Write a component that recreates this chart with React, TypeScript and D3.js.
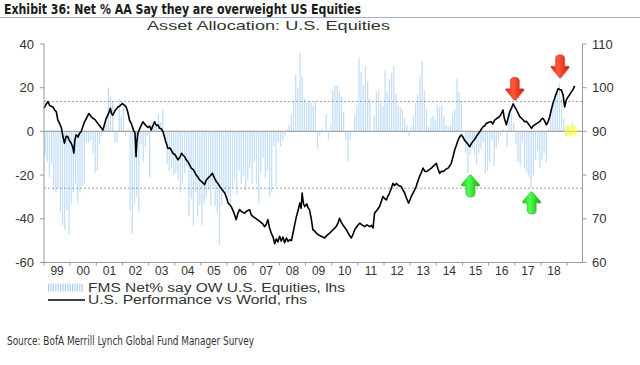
import React from "react";
import * as d3 from "d3";

// ---- DATA ----
const fmsStartYear = 1999;
// FMS Net % say overweight U.S. equities (lhs), monthly from Jan 1999
const fmsNetOW: number[] = [
  // 1999
  -11, -14, -21, -15, -27, -28, -26, -37, -43, -45, -36, -47,
  // 2000
  -33, -28, -24, -33, -28, -25, -24, -5, -5, -4, -10, -19,
  // 2001
  -18, -6, -2, 2, 3, 20, 16, 14, -5, -5, 15, 7,
  // 2002
  11, -2, 1, -36, -47, -33, -30, -37, -6, -14, -7, -2,
  // 2003
  -21, 3, 5, 4, 8, 4, 10, -5, -15, -18, -17, -20,
  // 2004
  -19, -22, -28, -24, -19, -16, -39, -31, -43, -28, -39, -34,
  // 2005
  -43, -33, -30, -27, -34, -25, -34, -37, -52, -34, -27, -30,
  // 2006
  -30, -34, -26, -22, -29, -18, -24, -20, -27, -22, -17, -24,
  // 2007
  -14, -24, -33, -19, -12, -21, -18, -30, -28, -7, -25, -5,
  // 2008
  -7, -4, -2, 1, 3, 8, 14, 26, 20, 36, 25, 15,
  // 2009
  13, 14, 13, 12, 14, -8, -2, 1, 0, 8, -4, 3,
  // 2010
  19, 21, 21, 18, 16, 9, -4, -14, -4, 0, 8, 12,
  // 2011
  34, 27, 21, 30, 23, 15, 0, 7, 18, 19, 13, 12,
  // 2012
  28, 18, 24, 27, 30, 17, 12, 11, 10, 6, 3, -2,
  // 2013
  2, 7, 13, 17, 25, 32, 19, 10, 2, 6, 7, 5,
  // 2014
  12, 11, 12, 7, 3, 2, 3, 8, 10, 24, 18, 14,
  // 2015
  0, -10, -19, -11, -8, -11, -15, -10, -8, -5, -19, -18,
  // 2016
  -14, -4, -16, -8, -5, -2, 1, 0, -7, 11, 8, 4,
  // 2017
  -6, -14, -16, -5, -17, -19, -21, -26, -20, -13, -9, -17,
  // 2018
  -13, -10, -14, 1, 10, 12, 17, 19, 22, 15, 6, -2,
  // 2019
  2, -1, 4,
];

// U.S. performance vs World (rhs): [decimal year, index]
const usVsWorld: [number, number][] = [
  [1999.0, 95.3], [1999.08, 96.2], [1999.15, 96.8], [1999.22, 95.9], [1999.34, 95.6], [1999.41, 94.9],
  [1999.47, 94.5], [1999.53, 92.6], [1999.6, 91.8], [1999.66, 90.9], [1999.72, 89.0], [1999.78, 87.3],
  [1999.85, 88.9], [1999.91, 88.8], [1999.97, 87.9], [2000.04, 87.3], [2000.1, 86.4], [2000.14, 85.0],
  [2000.18, 88.0], [2000.23, 89.2], [2000.3, 88.7], [2000.36, 89.6], [2000.42, 89.9], [2000.48, 91.0],
  [2000.55, 92.2], [2000.63, 93.1], [2000.72, 94.1], [2000.8, 93.4], [2000.87, 93.0], [2000.95, 92.7],
  [2001.06, 91.8], [2001.15, 91.1], [2001.25, 90.3], [2001.31, 91.5], [2001.38, 93.0], [2001.46, 94.0],
  [2001.54, 95.3], [2001.58, 94.1], [2001.63, 93.7], [2001.72, 94.8], [2001.83, 95.6], [2001.9, 95.8],
  [2001.99, 96.4], [2002.07, 96.0], [2002.14, 95.6], [2002.2, 94.5], [2002.27, 92.6], [2002.35, 91.6],
  [2002.42, 90.3], [2002.48, 89.6], [2002.52, 84.2], [2002.55, 87.5], [2002.59, 89.6], [2002.68, 90.9],
  [2002.78, 92.2], [2002.86, 91.6], [2002.97, 90.9], [2003.04, 91.2], [2003.1, 90.3], [2003.17, 91.4],
  [2003.23, 92.2], [2003.3, 91.3], [2003.36, 91.5], [2003.42, 90.7], [2003.49, 90.6], [2003.55, 89.9],
  [2003.64, 88.0], [2003.74, 86.1], [2003.82, 86.2], [2003.93, 85.0], [2004.02, 84.6], [2004.12, 83.5],
  [2004.2, 84.1], [2004.26, 85.0], [2004.31, 84.6], [2004.38, 84.2], [2004.44, 83.5], [2004.52, 82.9],
  [2004.63, 81.6], [2004.72, 81.2], [2004.82, 80.0], [2004.88, 79.6], [2004.95, 78.9], [2005.05, 78.4],
  [2005.14, 77.8], [2005.2, 78.8], [2005.27, 79.3], [2005.35, 79.8], [2005.44, 80.4], [2005.52, 79.3],
  [2005.59, 78.5], [2005.66, 78.0], [2005.72, 77.4], [2005.82, 76.6], [2005.91, 75.9], [2005.98, 74.8],
  [2006.04, 73.6], [2006.1, 73.2], [2006.16, 72.8], [2006.26, 71.4], [2006.35, 69.8], [2006.41, 71.2],
  [2006.48, 72.1], [2006.56, 71.6], [2006.67, 71.3], [2006.76, 71.8], [2006.86, 72.1], [2006.92, 71.0],
  [2006.99, 70.5], [2007.12, 70.0], [2007.25, 69.4], [2007.35, 68.9], [2007.44, 68.2], [2007.5, 68.8],
  [2007.56, 69.8], [2007.62, 68.0], [2007.69, 66.7], [2007.76, 65.8], [2007.82, 64.3], [2007.88, 65.4],
  [2007.94, 64.7], [2008.01, 66.0], [2008.07, 64.9], [2008.14, 65.8], [2008.2, 64.5], [2008.27, 65.6],
  [2008.33, 64.8], [2008.39, 65.2], [2008.46, 65.0], [2008.52, 66.7], [2008.58, 68.5], [2008.65, 70.5],
  [2008.72, 72.0], [2008.78, 73.6], [2008.83, 72.4], [2008.87, 75.9], [2008.92, 73.5], [2008.97, 72.8],
  [2009.05, 73.4], [2009.1, 72.5], [2009.15, 72.1], [2009.22, 70.0], [2009.28, 67.5], [2009.35, 67.2],
  [2009.41, 66.7], [2009.5, 66.3], [2009.6, 66.0], [2009.73, 65.6], [2009.82, 66.2], [2009.92, 66.7],
  [2010.05, 67.5], [2010.17, 68.2], [2010.24, 69.0], [2010.3, 70.1], [2010.37, 69.2], [2010.43, 68.6],
  [2010.5, 68.0], [2010.56, 67.5], [2010.66, 66.4], [2010.75, 65.6], [2010.82, 66.5], [2010.88, 67.5],
  [2010.97, 68.3], [2011.07, 69.0], [2011.16, 68.6], [2011.26, 68.2], [2011.35, 68.6], [2011.45, 68.2],
  [2011.52, 68.5], [2011.58, 67.9], [2011.64, 71.3], [2011.74, 72.0], [2011.83, 72.8], [2011.9, 74.0],
  [2011.96, 75.1], [2012.03, 74.6], [2012.09, 74.3], [2012.15, 75.2], [2012.21, 75.9], [2012.28, 77.0],
  [2012.34, 78.1], [2012.4, 77.6], [2012.47, 78.1], [2012.56, 77.6], [2012.66, 77.4], [2012.72, 76.6],
  [2012.79, 75.9], [2012.87, 74.6], [2012.94, 73.6], [2012.99, 74.3], [2013.04, 75.1], [2013.14, 76.2],
  [2013.23, 77.4], [2013.3, 78.7], [2013.36, 79.7], [2013.43, 80.6], [2013.49, 81.6], [2013.56, 80.9],
  [2013.62, 80.8], [2013.72, 81.2], [2013.81, 81.6], [2013.9, 82.1], [2014.0, 82.7], [2014.06, 81.5],
  [2014.13, 80.4], [2014.2, 80.9], [2014.26, 80.8], [2014.36, 81.3], [2014.45, 81.6], [2014.51, 82.1],
  [2014.57, 82.7], [2014.64, 84.2], [2014.7, 85.7], [2014.77, 86.9], [2014.83, 88.0], [2014.9, 88.8],
  [2014.96, 89.2], [2015.02, 88.7], [2015.08, 88.0], [2015.18, 87.3], [2015.28, 86.5], [2015.34, 87.2],
  [2015.4, 87.7], [2015.47, 88.2], [2015.53, 88.8], [2015.6, 89.4], [2015.66, 89.9], [2015.72, 90.5],
  [2015.79, 91.1], [2015.85, 91.3], [2015.91, 91.8], [2016.0, 92.1], [2016.1, 92.2], [2016.16, 91.7],
  [2016.23, 92.6], [2016.32, 93.0], [2016.42, 93.4], [2016.48, 94.0], [2016.55, 94.9], [2016.6, 93.0],
  [2016.68, 91.5], [2016.75, 93.2], [2016.81, 94.5], [2016.88, 95.4], [2016.94, 96.3], [2017.0, 95.6],
  [2017.07, 94.9], [2017.13, 94.1], [2017.19, 93.4], [2017.28, 92.9], [2017.38, 92.2], [2017.45, 92.3],
  [2017.51, 91.8], [2017.58, 91.2], [2017.64, 90.7], [2017.7, 91.2], [2017.76, 91.5], [2017.86, 91.9],
  [2017.95, 92.2], [2018.02, 92.8], [2018.08, 93.0], [2018.14, 92.4], [2018.21, 91.5], [2018.28, 92.3],
  [2018.34, 93.4], [2018.4, 95.0], [2018.46, 96.4], [2018.56, 98.2], [2018.66, 99.8], [2018.72, 99.6],
  [2018.78, 99.5], [2018.85, 98.3], [2018.88, 96.8], [2018.91, 95.6], [2018.97, 97.2], [2019.04, 97.9],
  [2019.1, 98.4], [2019.17, 99.1], [2019.23, 99.6], [2019.29, 100.4],
];

const yearLabels = ["99", "00", "01", "02", "03", "04", "05", "06", "07", "08", "09",
  "10", "11", "12", "13", "14", "15", "16", "17", "18"];
const leftTicks = [40, 20, 0, -20, -40, -60];
const rightTicks = [110, 100, 90, 80, 70, 60];
const refLevels = [13.7, -26]; // dotted reference lines (lhs)

// annotation arrows: [decimal year, lhs value at the arrow tip]
const redArrows: [number, number][] = [[2017.0, 14.2], [2018.73, 24.6]];
const greenArrows: [number, number][] = [[2015.3, -19.8], [2017.64, -27.6]];
// highlighted last readings: [start year, end year, top lhs, bottom lhs]
const highlight: [number, number, number, number] = [2018.92, 2019.37, 2.7, -2.2];

const titleText = "Exhibit 36: Net % AA Say they are overweight US Equities";
const subtitleText = "Asset Allocation: U.S. Equities";
const legendBars = "FMS Net% say OW U.S. Equities, lhs";
const legendLine = "U.S. Performance vs World, rhs";
const sourceText = "Source: BofA Merrill Lynch Global Fund Manager Survey";

// ---- LAYOUT ----
const W = 640, H = 365;
const plot = { left: 44, right: 582.5, top: 44, bottom: 262.5 };

export default function App() {
  const x = d3.scaleLinear().domain([1999, 2019.59]).range([plot.left, plot.right]);
  const yL = d3.scaleLinear().domain([-60, 40]).range([plot.bottom, plot.top]);
  const yR = d3.scaleLinear().domain([60, 110]).range([plot.bottom, plot.top]);

  const line = d3.line<[number, number]>()
    .x((d) => x(d[0]))
    .y((d) => yR(d[1]));

  const sans = "'Liberation Sans', Arial, Helvetica, sans-serif";
  const narrow = "'Liberation Sans Narrow', 'DejaVu Sans Condensed', 'Arial Narrow', sans-serif";

  const arrowDown = (cx: number, tipY: number) => {
    const h = 23, hw = 8.8, sw = 4.4, headH = 11.5;
    const top = tipY - h;
    return `M${cx - sw},${top + 3.5} Q${cx - sw},${top} ${cx},${top} Q${cx + sw},${top} ${cx + sw},${top + 3.5}
      L${cx + sw},${tipY - headH} L${cx + hw},${tipY - headH} Q${cx + hw + 1},${tipY - headH + 1} ${cx + hw - 0.5},${tipY - headH + 2}
      L${cx + 1},${tipY - 0.5} Q${cx},${tipY + 0.5} ${cx - 1},${tipY - 0.5}
      L${cx - hw + 0.5},${tipY - headH + 2} Q${cx - hw - 1},${tipY - headH + 1} ${cx - hw},${tipY - headH}
      L${cx - sw},${tipY - headH} Z`;
  };
  const arrowUp = (cx: number, tipY: number) => {
    const h = 22, hw = 8.8, sw = 4.4, headH = 11;
    const bot = tipY + h;
    return `M${cx - sw},${bot - 3.5} Q${cx - sw},${bot} ${cx},${bot} Q${cx + sw},${bot} ${cx + sw},${bot - 3.5}
      L${cx + sw},${tipY + headH} L${cx + hw},${tipY + headH} Q${cx + hw + 1},${tipY + headH - 1} ${cx + hw - 0.5},${tipY + headH - 2}
      L${cx + 1},${tipY + 0.5} Q${cx},${tipY - 0.5} ${cx - 1},${tipY + 0.5}
      L${cx - hw + 0.5},${tipY + headH - 2} Q${cx - hw - 1},${tipY + headH - 1} ${cx - hw},${tipY + headH}
      L${cx - sw},${tipY + headH} Z`;
  };

  const yearTicks = d3.range(1999, 2020);

  return (
    <svg width={W} height={H} style={{ position: "absolute", left: 0, top: 0, background: "#fff" }}>
      <defs>
        <linearGradient id="redG" x1="0" x2="1" y1="0" y2="0">
          <stop offset="0" stopColor="#e8200a" />
          <stop offset="0.4" stopColor="#ff5a3a" />
          <stop offset="1" stopColor="#d41800" />
        </linearGradient>
        <linearGradient id="greenG" x1="0" x2="1" y1="0" y2="0">
          <stop offset="0" stopColor="#14c814" />
          <stop offset="0.4" stopColor="#52ff52" />
          <stop offset="1" stopColor="#0cb40c" />
        </linearGradient>
      </defs>

      {/* title */}
      <text x={4} y={14} fontFamily={narrow} fontWeight="bold" fontSize={14.5} fill="#1b1b1b"
        textLength={357} lengthAdjust="spacingAndGlyphs">{titleText}</text>
      <line x1={0} x2={W} y1={17.5} y2={17.5} stroke="#9fb2cc" strokeWidth={1} />
      <text x={147} y={29.5} fontFamily={sans} fontSize={13} fill="#333"
        textLength={243} lengthAdjust="spacingAndGlyphs">{subtitleText}</text>

      {/* bars */}
      {fmsNetOW.map((v, i) => {
        const t = fmsStartYear + (i + 0.5) / 12;
        const y0 = yL(0), y1 = yL(v);
        return (
          <rect key={i} x={x(t) - 0.65} width={1.3} y={Math.min(y0, y1)} height={Math.abs(y1 - y0)}
            fill="#c4dff7" />
        );
      })}

      {/* zero line & reference lines */}
      <line x1={plot.left} x2={plot.right} y1={yL(0)} y2={yL(0)} stroke="#a5a5a5" strokeWidth={1.3} />
      {refLevels.map((r) => (
        <line key={r} x1={plot.left} x2={plot.right} y1={yL(r)} y2={yL(r)} stroke="#8a8a8a"
          strokeWidth={0.8} strokeDasharray="2,2" />
      ))}

      {/* highlight */}
      <rect x={x(highlight[0])} width={x(highlight[1]) - x(highlight[0])} y={yL(highlight[2])}
        height={yL(highlight[3]) - yL(highlight[2])} fill="#ffff33" opacity={0.6} />

      {/* line */}
      <path d={line(usVsWorld) || ""} fill="none" stroke="#000" strokeWidth={1.6} strokeLinejoin="round" />

      {/* axes */}
      <line x1={plot.left} x2={plot.left} y1={plot.top} y2={plot.bottom} stroke="#9a9a9a" strokeWidth={1} />
      <line x1={plot.right} x2={plot.right} y1={plot.top} y2={plot.bottom} stroke="#9a9a9a" strokeWidth={1} />
      <line x1={plot.left} x2={plot.right} y1={plot.bottom} y2={plot.bottom} stroke="#9a9a9a" strokeWidth={1} />
      {leftTicks.map((t) => (
        <g key={t}>
          <line x1={plot.left - 4} x2={plot.left} y1={yL(t)} y2={yL(t)} stroke="#9a9a9a" />
          <text x={34} y={yL(t) + 4.5} textAnchor="end" fontFamily={sans} fontSize={13} fill="#333">{t}</text>
        </g>
      ))}
      {rightTicks.map((t) => (
        <g key={t}>
          <line x1={plot.right} x2={plot.right + 4} y1={yR(t)} y2={yR(t)} stroke="#9a9a9a" />
          <text x={592} y={yR(t) + 4.5} fontFamily={sans} fontSize={13} fill="#333">{t}</text>
        </g>
      ))}
      {yearTicks.map((t) => (
        <line key={t} x1={x(t)} x2={x(t)} y1={plot.bottom} y2={plot.bottom + 3} stroke="#9a9a9a" />
      ))}
      {yearLabels.map((lab, i) => (
        <text key={lab} x={x(1999 + i + 0.5)} y={274.5} textAnchor="middle" fontFamily={sans} fontSize={12}
          fill="#333">{lab}</text>
      ))}

      {/* arrows */}
      {redArrows.map(([t, v], i) => (
        <g key={"r" + i}>
          <path d={arrowDown(x(t) + 1, yL(v) + 1)} fill="#000" opacity={0.18} />
          <path d={arrowDown(x(t), yL(v))} fill="url(#redG)" stroke="#c81400" strokeWidth={0.4} />
        </g>
      ))}
      {greenArrows.map(([t, v], i) => (
        <g key={"g" + i}>
          <path d={arrowUp(x(t) + 1, yL(v) + 1)} fill="#000" opacity={0.18} />
          <path d={arrowUp(x(t), yL(v))} fill="url(#greenG)" stroke="#0ca00c" strokeWidth={0.4} />
        </g>
      ))}

      {/* legend */}
      {d3.range(0, 15).map((i) => (
        <rect key={i} x={48 + i * 2.4} y={283.5} width={1.2} height={8} fill="#a9cff2" />
      ))}
      <text x={88} y={291.5} fontFamily={sans} fontSize={12} fill="#333"
        textLength={257} lengthAdjust="spacingAndGlyphs">{legendBars}</text>
      <line x1={48} x2={85} y1={300} y2={300} stroke="#000" strokeWidth={1.3} />
      <text x={88} y={304} fontFamily={sans} fontSize={12} fill="#333"
        textLength={219} lengthAdjust="spacingAndGlyphs">{legendLine}</text>

      {/* source */}
      <text x={7} y={345} fontFamily={narrow} fontSize={12} fill="#333"
        textLength={247} lengthAdjust="spacingAndGlyphs">{sourceText}</text>
    </svg>
  );
}
